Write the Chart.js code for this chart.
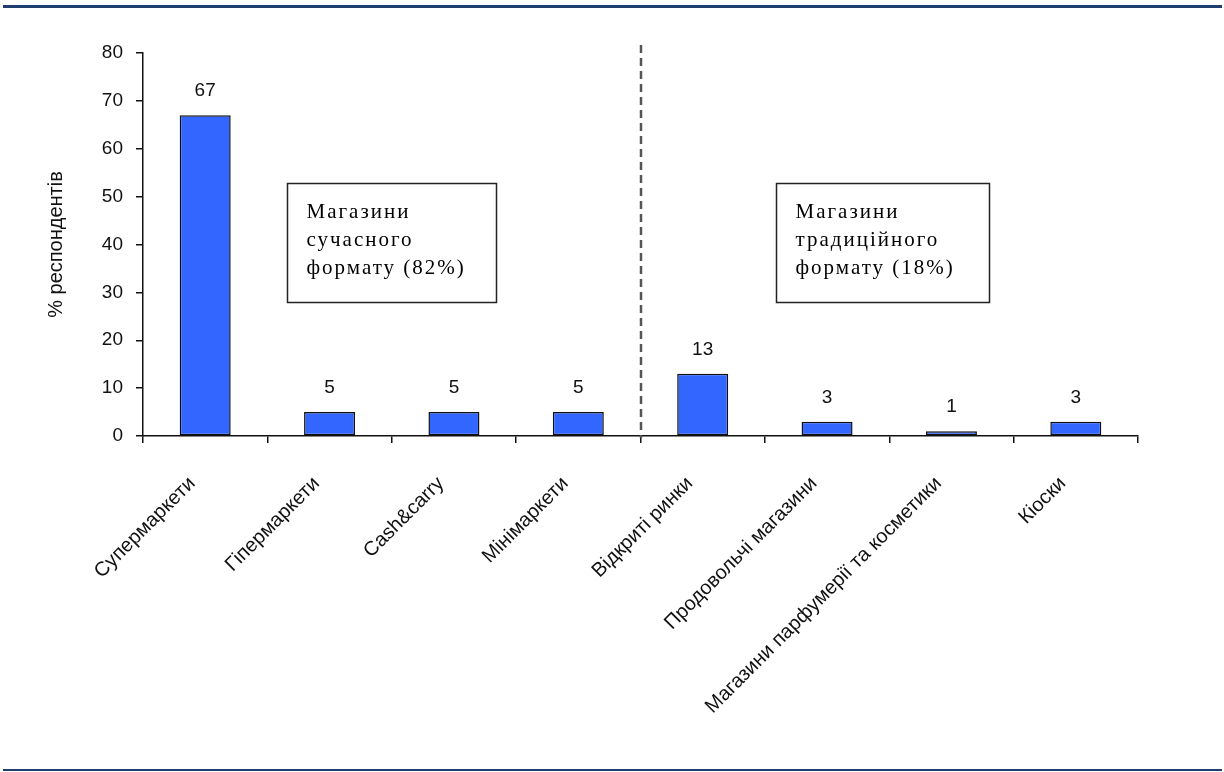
<!DOCTYPE html>
<html><head><meta charset="utf-8">
<script src="https://cdn.jsdelivr.net/npm/chart.js@4.4.0/dist/chart.umd.min.js"></script>
<style>html,body{margin:0;padding:0;background:#fff;} canvas{display:block;}</style>
</head><body>
<canvas id="c" width="1224" height="772"></canvas>
<script>
// ---- data ----
const categories = ["Супермаркети","Гіпермаркети","Cash&carry","Мінімаркети","Відкриті ринки","Продовольчі магазини","Магазини парфумерії та косметики","Кіоски"];
const values = [67, 5, 5, 5, 13, 3, 1, 3];
const yTickValues = [0, 10, 20, 30, 40, 50, 60, 70, 80];
const yAxisTitle = "% респондентів";
const modernNote = ["Магазини", "сучасного", "формату (82%)"];
const traditionalNote = ["Магазини", "традиційного", "формату (18%)"];

// ---- plugins ----
const framePlugin = {
  id: 'frame',
  beforeDraw(chart) {
    const ctx = chart.ctx;
    ctx.save();
    ctx.fillStyle = '#fff';
    ctx.fillRect(0, 0, chart.width, chart.height);
    ctx.fillStyle = '#1F3D6E';
    ctx.fillRect(3, 5, chart.width - 5, 3);
    ctx.fillRect(3, chart.height - 3, chart.width - 5, 2);
    ctx.restore();
  }
};

const notesPlugin = {
  id: 'notes',
  afterDatasetsDraw(chart) {
    const ctx = chart.ctx;
    const xs = chart.scales.x, ys = chart.scales.y;
    ctx.save();
    // divider between modern and traditional formats
    const dx = Math.round((xs.getPixelForTick(3) + xs.getPixelForTick(4)) / 2);
    ctx.strokeStyle = '#555';
    ctx.lineWidth = 2.5;
    ctx.setLineDash([8, 5]);
    ctx.beginPath();
    ctx.moveTo(dx, ys.getPixelForValue(80) - 8);
    ctx.lineTo(dx, ys.getPixelForValue(0) + 2);
    ctx.stroke();
    ctx.setLineDash([]);
    // note boxes
    const boxes = [
      {lines: modernNote, a: 0.655, b: 2.34},
      {lines: traditionalNote, a: 4.59, b: 6.30}
    ];
    ctx.font = '21px "Liberation Serif", "Times New Roman", serif';
    if ('letterSpacing' in ctx) ctx.letterSpacing = '2px';
    ctx.textBaseline = 'alphabetic';
    ctx.textAlign = 'left';
    boxes.forEach(bx => {
      const l = Math.round(xs.getPixelForValue(bx.a)) + 0.5;
      const r = Math.round(xs.getPixelForValue(bx.b)) + 0.5;
      const t = Math.round(ys.getPixelForValue(52.8)) + 0.5;
      const btm = Math.round(ys.getPixelForValue(28)) + 0.5;
      ctx.fillStyle = '#fff';
      ctx.fillRect(l, t, r - l, btm - t);
      ctx.strokeStyle = '#222';
      ctx.lineWidth = 1.5;
      ctx.strokeRect(l, t, r - l, btm - t);
      ctx.fillStyle = '#000';
      bx.lines.forEach((s, i) => ctx.fillText(s, l + 19, t + 34 + i * 28));
    });
    if ('letterSpacing' in ctx) ctx.letterSpacing = '0px';
    // value labels
    ctx.font = '19px "Liberation Sans", Arial, sans-serif';
    ctx.textAlign = 'center';
    ctx.textBaseline = 'middle';
    ctx.fillStyle = '#111';
    const meta = chart.getDatasetMeta(0);
    meta.data.forEach((bar, i) => {
      ctx.fillText(String(values[i]), bar.x, bar.y - 24);
    });
    ctx.restore();
  }
};

new Chart(document.getElementById('c'), {
  type: 'bar',
  data: {
    labels: categories,
    datasets: [{
      data: values,
      backgroundColor: '#3366FF',
      borderColor: '#111',
      borderWidth: 1.5,
      borderSkipped: false,
      categoryPercentage: 1,
      barPercentage: 0.41
    }]
  },
  options: {
    responsive: false,
    animation: false,
    devicePixelRatio: 1,
    layout: {padding: {left: 0, right: 86, top: 53, bottom: 0}},
    plugins: {legend: {display: false}, tooltip: {enabled: false}},
    scales: {
      x: {
        grid: {display: true, drawOnChartArea: false, drawTicks: true, tickLength: 7, tickColor: '#111', lineWidth: 1.5, offset: true},
        border: {display: true, color: '#111', width: 1.5},
        ticks: {
          minRotation: 45, maxRotation: 45, autoSkip: false, padding: 29, labelOffset: -13,
          color: '#111',
          font: {family: '"Liberation Sans", Arial, sans-serif', size: 20}
        },
        afterFit(scale) { scale.height = 336; }
      },
      y: {
        min: 0, max: 80,
        afterBuildTicks(scale) { scale.ticks = yTickValues.map(v => ({value: v})); },
        grid: {display: true, drawOnChartArea: false, drawTicks: true, tickLength: 7, tickColor: '#111', lineWidth: 1.5},
        border: {display: true, color: '#111', width: 1.5},
        ticks: {
          padding: 13, color: '#111',
          font: {family: '"Liberation Sans", Arial, sans-serif', size: 19}
        },
        title: {
          display: true, text: yAxisTitle, color: '#111',
          font: {family: '"Liberation Sans", Arial, sans-serif', size: 20},
          padding: {top: 44, bottom: 0}
        },
        afterFit(scale) { scale.width = 143; }
      }
    }
  },
  plugins: [framePlugin, notesPlugin]
});
</script>
</body></html>
